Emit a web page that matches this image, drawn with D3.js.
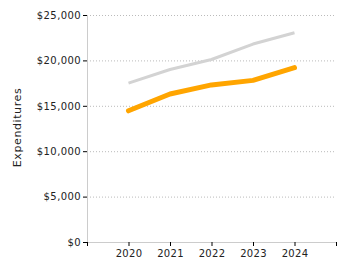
<!DOCTYPE html>
<html><head><meta charset="utf-8">
<script src="https://cdn.jsdelivr.net/npm/d3@7"></script>
<style>
body{margin:0;background:#fff;}
text{font-family:"DejaVu Sans",Verdana,sans-serif;}
</style></head>
<body><svg id="c" width="350" height="275"></svg>
<script>
const years = [2020, 2021, 2022, 2023, 2024];
const seriesGray = [17500, 19000, 20100, 21800, 23050];
const seriesOrange = [14450, 16300, 17300, 17800, 19200];
const yTicks = [0, 5000, 10000, 15000, 20000, 25000];
const yTitle = "Expenditures";

const svg = d3.select("#c");
const m = {l:87, r:14, t:15, b:33};
const W = 350, H = 275;
const x = d3.scaleLinear().domain([2019, 2025]).range([m.l, W - m.r]);
const y = d3.scaleLinear().domain([0, 25000]).range([H - m.b, m.t]);

// grid
svg.append("g").selectAll("line").data(yTicks.filter(d=>d>0)).join("line")
  .attr("x1", m.l).attr("x2", W - m.r - 2)
  .attr("y1", d=>y(d)+0.5).attr("y2", d=>y(d)+0.5)
  .attr("stroke", "#bbb").attr("stroke-dasharray", "1,2");

// y axis
const ya = svg.append("g").attr("transform", `translate(${m.l},0)`)
  .call(d3.axisLeft(y).tickValues(yTicks).tickSize(4).tickFormat(d=>"$"+d3.format(",")(d)));
ya.select(".domain").attr("stroke", "#ccc").attr("d", `M0.5,${y(25000)}V${y(0)}`);
ya.selectAll(".tick line").attr("stroke", "#000");
ya.selectAll("text").attr("font-size", 10).attr("fill", "#222").attr("x", -6).style("letter-spacing","0.4px");

// x axis
const xa = svg.append("g").attr("transform", `translate(0,${y(0)})`)
  .call(d3.axisBottom(x).tickValues(d3.range(2019, 2026)).tickSize(4)
    .tickFormat(d => years.includes(d) ? String(d) : ""));
xa.select(".domain").attr("stroke", "#ccc").attr("d", `M${m.l},0.5H${W-m.r}`);
xa.selectAll(".tick line").attr("stroke", "#000");
xa.selectAll("text").attr("font-size", 10).attr("fill", "#222").attr("y", 8).style("letter-spacing","0.3px");

// y title
svg.append("text").attr("transform", `translate(21,${(y(0)+y(25000))/2 - 1}) rotate(-90)`)
  .attr("text-anchor", "middle").attr("font-size", 11).attr("fill", "#222")
  .style("letter-spacing","0.6px").text(yTitle);

const line = d3.line().x((d,i)=>x(years[i])).y(d=>y(d));
svg.append("path").datum(seriesGray).attr("d", line).attr("fill","none")
  .attr("stroke", "#d3d3d3").attr("stroke-width", 3).attr("stroke-linejoin","round");
svg.append("path").datum(seriesOrange).attr("d", line).attr("fill","none")
  .attr("stroke", "#ffa500").attr("stroke-width", 5).attr("stroke-linecap","round").attr("stroke-linejoin","round");
</script></body></html>
